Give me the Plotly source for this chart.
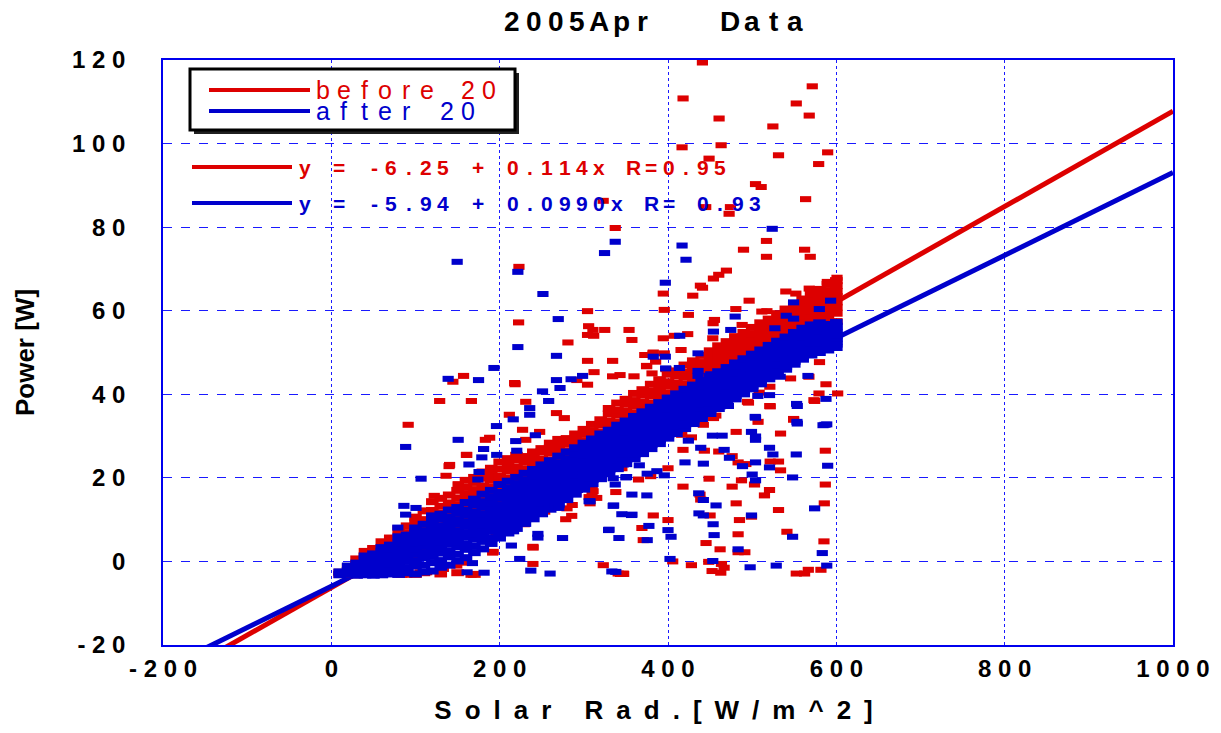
import plotly.graph_objects as go

# ---------------- data ----------------
BAND_X = [10, 20, 30, 40, 50, 60, 70, 80, 90, 100, 110, 120, 130, 140, 150, 160, 170, 180, 190, 200,
          210, 220, 230, 240, 250, 260, 270, 280, 290, 300, 310, 320, 330, 340, 350, 360, 370, 380, 390, 400,
          410, 420, 430, 440, 450, 460, 470, 480, 490, 500, 510, 520, 530, 540, 550, 560, 570, 580, 590, 600]

RED_BAND_Y = [
    [-3.1, -2.6],
    [-3.0, -2.1, -1.3],
    [-3.2, -1.9, -0.7, 0.6],
    [-3.0, -1.4, -0.1, 1.3, 2.4],
    [-2.9, -1.1, 0.4, 1.7, 3.1],
    [-3.1, -0.9, 0.6, 2.0, 3.2, 4.7],
    [-2.6, -0.3, 1.3, 2.5, 4.1, 5.6],
    [-3.0, -0.7, 1.9, 3.3, 4.5, 6.2, 7.8],
    [-2.3, 0.6, 2.3, 4.0, 5.3, 6.9, 8.5],
    [-3.1, 1.3, 3.0, 4.7, 6.1, 7.4, 9.2, 10.6],
    [-2.7, 2.1, 4.0, 5.3, 7.0, 8.4, 10.0, 12.1],
    [2.7, 4.7, 6.0, 7.7, 9.0, 10.7, 12.2, 14.3],
    [-3.0, 3.9, 5.5, 7.2, 8.5, 10.2, 11.5, 13.2, 15.1],
    [4.5, 6.6, 7.9, 9.6, 10.9, 12.5, 14.0, 15.9],
    [-2.7, 5.9, 7.5, 9.2, 10.5, 12.1, 13.6, 15.2, 17.0],
    [6.8, 8.7, 10.0, 11.7, 12.9, 14.6, 16.1, 17.7, 19.4],
    [-3.1, 7.9, 9.5, 11.3, 12.6, 14.2, 15.7, 17.2, 18.9, 20.1],
    [8.9, 10.9, 12.2, 13.9, 15.1, 16.8, 18.1, 19.9, 21.4],
    [10.1, 11.7, 13.4, 14.8, 16.4, 17.7, 19.4, 21.0, 22.3],
    [11.1, 13.1, 14.4, 16.1, 17.4, 19.1, 20.4, 22.1, 23.8],
    [12.3, 13.9, 15.7, 17.0, 18.7, 20.0, 21.7, 23.0, 24.6],
    [13.3, 15.3, 16.6, 18.3, 19.6, 21.3, 22.6, 24.3, 25.4],
    [14.6, 16.2, 17.9, 19.2, 20.9, 22.2, 23.9, 25.1],
    [15.6, 17.6, 18.9, 20.6, 21.9, 23.6, 24.9, 26.2],
    [16.9, 18.5, 20.2, 21.5, 23.2, 24.5, 26.2, 27.0],
    [17.9, 19.9, 21.2, 22.9, 24.2, 25.9, 27.2, 28.3],
    [19.2, 20.8, 22.5, 23.8, 25.5, 26.8, 28.1, 29.2],
    [20.2, 22.2, 23.5, 25.2, 26.5, 28.2, 29.4],
    [21.5, 23.1, 24.8, 26.1, 27.8, 29.1, 30.5],
    [22.5, 24.5, 25.8, 27.5, 28.8, 30.4, 31.6],
    [23.8, 25.4, 27.1, 28.4, 30.1, 31.3, 32.8],
    [24.8, 26.8, 28.1, 29.8, 31.0, 32.7, 33.9],
    [26.1, 27.7, 29.4, 30.7, 32.3, 33.6, 35.3, 36.6],
    [27.1, 29.1, 30.4, 32.1, 33.3, 35.0, 36.2, 37.9],
    [28.5, 30.1, 31.8, 33.0, 34.7, 35.9, 37.6, 38.8],
    [29.4, 31.4, 32.7, 34.4, 35.6, 37.3, 38.5, 40.2],
    [30.7, 32.3, 34.0, 35.3, 36.9, 38.2, 39.9, 41.1],
    [31.7, 33.7, 35.0, 36.7, 37.9, 39.6, 40.8, 42.4],
    [33.1, 34.7, 36.4, 37.6, 39.3, 40.5, 42.1, 43.5],
    [34.0, 36.0, 37.3, 39.0, 40.2, 41.9, 43.0, 44.8],
    [35.4, 37.0, 38.7, 39.9, 41.5, 42.7, 44.4, 45.6],
    [36.5, 38.4, 39.7, 41.3, 42.5, 44.1, 45.3, 47.0],
    [37.7, 39.5, 41.0, 42.2, 43.8, 45.0, 46.6, 48.0],
    [38.9, 40.8, 42.1, 43.6, 44.8, 46.4, 47.6, 49.3],
    [40.3, 41.9, 43.5, 44.7, 46.2, 47.4, 49.0, 50.4],
    [41.4, 43.3, 44.6, 46.1, 47.3, 48.8, 50.0, 51.6],
    [42.7, 44.4, 45.9, 47.1, 48.6, 49.8, 51.3, 52.6],
    [43.8, 45.7, 47.0, 48.4, 49.6, 51.1, 52.3, 53.8],
    [45.0, 46.8, 48.2, 49.4, 50.9, 52.0, 53.5, 54.8],
    [46.1, 48.0, 49.3, 50.7, 51.9, 53.3, 54.5, 56.0],
    [47.2, 49.0, 50.5, 51.7, 53.1, 54.3, 55.7, 57.1],
    [48.4, 50.2, 51.6, 52.9, 54.2, 55.5, 56.8, 58.0],
    [49.5, 51.3, 52.8, 54.0, 55.3, 56.6, 57.9, 59.3],
    [50.6, 52.5, 53.9, 55.2, 56.5, 57.7, 59.1, 60.4],
    [51.8, 53.6, 55.1, 56.3, 57.6, 58.9, 60.2, 61.6],
    [52.9, 54.8, 56.2, 57.5, 58.8, 60.0, 61.4, 62.8],
    [54.0, 55.9, 57.4, 58.6, 59.9, 61.2, 62.5, 63.9],
    [55.2, 57.1, 58.5, 59.8, 61.1, 62.3, 63.7, 65.1],
    [56.3, 58.2, 59.7, 60.9, 62.2, 63.5, 64.8, 66.3],
    [57.4, 59.4, 60.8, 62.1, 63.4, 64.6, 66.0, 67.2],
]

BLUE_BAND_Y = [
    [-3.2, -2.5],
    [-3.1, -2.2, -1.1],
    [-3.3, -2.4, -1.2, -0.4],
    [-3.2, -2.5, -1.3, -0.5, 0.7, 1.3],
    [-3.3, -2.1, -1.3, -0.1, 0.9, 1.8],
    [-3.2, -2.3, -0.9, 0.2, 1.1, 2.4, 3.3],
    [-3.0, -2.1, -0.7, 0.5, 1.5, 2.9, 3.9],
    [-3.1, -1.7, -0.6, 0.9, 1.9, 3.3, 4.4, 5.9],
    [-2.7, -1.5, 0.0, 1.1, 2.6, 3.7, 5.2, 6.3],
    [-3.0, -1.1, 0.2, 1.8, 2.9, 4.4, 5.5, 7.0, 8.0],
    [-2.5, -0.9, 0.9, 2.1, 3.6, 4.7, 6.2, 7.3, 8.9],
    [-2.3, -0.3, 1.2, 2.8, 3.9, 5.4, 6.6, 8.1, 9.4, 10.9],
    [-1.4, 0.2, 2.0, 3.2, 4.7, 5.9, 7.4, 8.5, 10.1, 11.3],
    [-0.9, 1.1, 2.5, 4.1, 5.3, 6.8, 7.9, 9.4, 10.6, 12.3],
    [0.1, 1.7, 3.5, 4.7, 6.2, 7.3, 8.9, 10.0, 11.6, 12.9],
    [0.9, 2.9, 4.2, 5.8, 6.9, 8.4, 9.5, 11.1, 12.3, 14.1],
    [2.1, 3.6, 5.3, 6.5, 8.0, 9.1, 10.7, 11.8, 13.5, 14.9],
    [3.0, 4.8, 6.1, 7.6, 8.7, 10.2, 11.4, 13.0, 14.3, 16.1],
    [4.3, 5.6, 7.2, 8.3, 9.8, 11.1, 12.5, 13.9, 15.4, 17.0],
    [5.6, 7.1, 8.3, 9.8, 10.9, 12.4, 13.6, 15.2, 16.5, 18.4],
    [6.8, 8.0, 9.5, 10.6, 12.1, 13.3, 14.8, 16.1, 17.6, 19.2],
    [7.9, 9.2, 10.5, 11.7, 13.0, 14.4, 15.6, 17.1, 18.5, 20.1],
    [9.1, 10.2, 11.6, 12.8, 14.1, 15.3, 16.7, 18.0, 19.5, 21.1],
    [10.2, 11.5, 12.7, 13.8, 15.2, 16.4, 17.7, 19.1, 20.5, 22.0],
    [11.4, 12.5, 13.9, 15.0, 16.2, 17.5, 18.8, 20.1, 21.6, 23.1],
    [12.5, 13.8, 14.9, 16.1, 17.3, 18.5, 19.8, 21.1, 22.5, 24.1],
    [13.7, 14.8, 16.1, 17.2, 18.3, 19.6, 20.9, 22.2, 23.6, 25.2],
    [14.8, 16.1, 17.2, 18.3, 19.5, 20.7, 21.9, 23.2, 24.6, 26.2],
    [16.1, 17.2, 18.4, 19.4, 20.6, 21.7, 23.0, 24.3, 25.7, 27.2],
    [17.3, 18.5, 19.5, 20.7, 21.7, 22.9, 24.1, 25.4, 26.8, 28.3],
    [18.6, 19.6, 20.8, 21.8, 22.9, 24.0, 25.2, 26.5, 27.9, 29.3],
    [19.8, 20.9, 21.9, 23.0, 24.0, 25.2, 26.4, 27.6, 29.0, 30.5],
    [21.0, 22.0, 23.1, 24.1, 25.2, 26.2, 27.4, 28.7, 30.1, 31.4],
    [22.2, 23.3, 24.2, 25.3, 26.3, 27.4, 28.5, 29.8, 31.1, 32.6],
    [23.4, 24.4, 25.4, 26.4, 27.4, 28.5, 29.6, 30.9, 32.2, 33.6],
    [24.6, 25.7, 26.6, 27.6, 28.5, 29.6, 30.8, 32.0, 33.3, 34.7],
    [25.8, 26.8, 27.7, 28.7, 29.7, 30.7, 31.9, 33.1, 34.4, 35.8],
    [27.0, 28.0, 28.9, 29.9, 30.8, 31.9, 33.0, 34.2, 35.5, 36.9],
    [28.2, 29.2, 30.1, 31.0, 32.0, 33.0, 34.1, 35.3, 36.6, 38.0],
    [29.5, 30.4, 31.3, 32.2, 33.1, 34.1, 35.2, 36.4, 37.7, 39.1],
    [30.6, 31.6, 32.4, 33.3, 34.2, 35.2, 36.3, 37.5, 38.8, 40.1],
    [31.8, 32.7, 33.6, 34.5, 35.4, 36.3, 37.4, 38.6, 39.8, 41.2],
    [33.0, 33.9, 34.7, 35.6, 36.5, 37.4, 38.5, 39.6, 40.9, 42.2],
    [34.2, 35.1, 35.9, 36.7, 37.6, 38.6, 39.6, 40.7, 41.9, 43.3],
    [35.4, 36.2, 37.0, 37.9, 38.7, 39.7, 40.7, 41.8, 43.0, 44.3],
    [36.6, 37.4, 38.2, 39.0, 39.9, 40.8, 41.8, 42.9, 44.0, 45.4],
    [37.8, 38.5, 39.3, 40.2, 41.0, 41.9, 42.9, 44.0, 45.1, 46.4],
    [38.9, 39.7, 40.5, 41.3, 42.1, 43.0, 44.0, 45.0, 46.2, 47.5],
    [40.1, 40.9, 41.6, 42.4, 43.3, 44.1, 45.1, 46.1, 47.2, 48.5],
    [41.3, 42.0, 42.8, 43.6, 44.4, 45.2, 46.2, 47.2, 48.3, 49.6],
    [42.5, 43.2, 43.9, 44.7, 45.5, 46.3, 47.3, 48.3, 49.4, 50.6],
    [43.7, 44.4, 45.1, 45.8, 46.6, 47.5, 48.4, 49.4, 50.4, 51.7],
    [44.9, 45.5, 46.2, 47.0, 47.7, 48.6, 49.5, 50.4, 51.5, 52.7],
    [46.0, 46.7, 47.4, 48.1, 48.9, 49.7, 50.6, 51.5, 52.5, 53.7],
    [47.2, 47.9, 48.5, 49.2, 50.0, 50.8, 51.7, 52.6, 53.6, 54.8],
    [48.4, 49.0, 49.7, 50.4, 51.1, 51.9, 52.8, 53.7, 54.6, 55.8],
    [49.4, 50.1, 50.8, 51.5, 52.2, 53.0, 53.8, 54.7, 55.7, 56.6],
    [50.0, 50.8, 51.5, 52.2, 52.9, 53.6, 54.4, 55.2, 56.1, 57.1],
    [50.6, 51.3, 52.1, 52.8, 53.5, 54.2, 55.0, 55.8, 56.7],
    [51.2, 52.0, 52.7, 53.4, 54.1, 54.8, 55.5, 56.3, 57.2],
]

RED_OUTLIERS = [
    (440.9, 119.4), (417.9, 110.8), (571.4, 113.7), (552.4, 109.6), (567.8, 106.7), (460.7, 106.0),
    (524.6, 104.1), (416.7, 99.1), (463.1, 99.6), (589.7, 97.9), (531.3, 97.2), (448.8, 96.4),
    (579.0, 95.1), (504.0, 90.3), (510.7, 89.6), (563.5, 86.7), (323.0, 86.3), (474.2, 84.8),
    (472.6, 83.2), (444.8, 84.8), (337.3, 79.8), (517.0, 76.7), (489.7, 74.6), (517.0, 72.9),
    (562.3, 74.6), (569.0, 72.9), (469.4, 69.6), (460.3, 68.6), (454.0, 67.7), (438.5, 66.0),
    (441.0, 65.5), (429.4, 63.6), (394.4, 64.1), (589.3, 66.9), (600.8, 67.9), (591.7, 66.5),
    (540.0, 64.6), (551.9, 64.1), (567.8, 65.3), (496.4, 62.4), (480.6, 60.4), (511.5, 59.8),
    (517.5, 59.9), (424.2, 59.0), (455.2, 57.8), (453.6, 57.0), (488.1, 56.6), (395.6, 60.2),
    (394.4, 53.4), (407.5, 54.0), (423.4, 54.4), (453.2, 53.4), (464.3, 51.4), (478.2, 49.8),
    (415.5, 50.6), (395.6, 49.8), (382.5, 50.0), (385.3, 47.8), (374.6, 46.7), (397.6, 46.0),
    (381.0, 45.0), (580.0, 47.7), (582.8, 50.6), (542.0, 53.4), (545.6, 43.8), (567.4, 44.2),
    (587.7, 42.4), (601.6, 40.2), (579.4, 40.2), (521.0, 41.8), (506.7, 42.6), (521.0, 37.2),
    (494.4, 38.2), (549.2, 34.1), (573.4, 38.6), (508.3, 40.4),
    (222.9, 70.5), (222.5, 57.2), (281.1, 52.4), (304.4, 59.9), (324.8, 55.4), (310.8, 55.4),
    (305.7, 56.3), (304.4, 54.2), (311.7, 54.0), (334.2, 48.0), (353.7, 55.4), (357.1, 53.0),
    (157.1, 44.4), (144.4, 43.0), (128.7, 38.4), (166.4, 38.4), (91.3, 32.7), (217.8, 42.7),
    (211.5, 35.1), (227.2, 31.5), (247.5, 31.0), (231.0, 29.1), (267.5, 35.5), (276.8, 34.3),
    (291.7, 43.4), (304.4, 48.0), (304.4, 42.3), (312.1, 45.3), (334.2, 44.3), (343.0, 44.6),
    (359.6, 44.3), (372.4, 49.4), (374.5, 46.8), (382.2, 49.8), (136.3, 20.5), (183.0, 29.1),
    (188.1, 29.6), (160.5, 25.5), (140.5, 23.1), (150.7, 18.5), (122.3, 15.7), (192.3, 2.3),
    (239.5, -0.6), (252.6, 12.1), (286.2, 13.5), (278.5, 10.1), (229.3, 8.9), (239.5, 3.5),
    (323.1, -0.9), (347.3, -3.0), (343.5, -3.0),
    (218.3, 42.4), (231.0, 38.2), (160.9, 25.5), (139.9, 22.8), (151.0, 18.3), (280.0, 12.7),
    (285.6, 10.9), (253.5, 11.9), (214.3, 8.7), (239.7, 3.3), (195.7, 6.3), (191.7, 2.1),
    (166.0, -3.2), (149.0, -1.0), (155.0, -0.3), (83.6, -3.2), (89.6, -3.2), (14.3, -3.2),
    (105.4, -2.6), (113.3, -2.6), (133.1, -1.8), (315.3, 15.2), (307.4, 13.9), (309.8, 16.5),
    (290.4, 16.3),
    (495.6, 38.0), (521.4, 37.1), (574.2, 38.4), (549.2, 33.9), (481.0, 31.0), (533.7, 30.6),
    (507.0, 33.4), (454.0, 34.3), (456.8, 34.9), (442.0, 32.7), (416.3, 30.3), (427.8, 29.7),
    (413.5, 31.7), (417.8, 26.7), (443.2, 26.5), (460.3, 26.3), (476.2, 25.2), (483.3, 23.7),
    (492.5, 23.3), (521.4, 23.9), (531.3, 23.9), (533.7, 21.8), (586.9, 26.5), (448.8, 19.8),
    (487.3, 19.4), (476.2, 17.9), (502.8, 18.4), (520.6, 17.1), (514.6, 15.8), (586.9, 18.4),
    (585.7, 13.9), (531.3, 12.3), (481.0, 13.9), (417.8, 17.9), (438.0, 16.0), (438.9, 14.8),
    (450.0, 11.0), (499.2, 10.7), (484.9, 9.9), (483.3, 6.5), (445.2, 4.4), (461.9, 2.9),
    (483.3, 2.2), (491.3, 2.2), (541.3, 7.1), (585.3, 4.8), (400.0, 9.9), (382.5, 11.0),
    (369.0, 8.0), (370.6, 5.1), (405.6, 0.0), (427.8, -0.9), (448.4, -0.1), (463.5, -0.6),
    (466.7, -1.5), (452.4, -2.3), (462.7, -2.7), (552.4, -2.9), (562.3, -2.9), (566.7, -2.0),
    (581.7, -2.0), (346.8, -2.9), (340.8, -2.9), (338.0, 16.6), (311.0, 16.8), (306.3, 15.4),
    (345.2, 22.3), (365.0, 19.6), (379.4, 20.4), (400.0, 22.3), (310.0, 17.8),
]

BLUE_OUTLIERS = [
    (523.8, 79.6), (337.3, 76.5), (324.6, 73.8), (416.7, 75.6), (421.4, 72.2), (396.8, 66.7),
    (549.2, 62.0), (579.8, 60.4), (593.2, 62.4), (479.8, 58.6), (549.2, 58.1), (540.5, 58.8),
    (527.0, 55.8), (474.6, 55.4), (454.0, 55.0), (413.9, 54.0), (382.5, 49.0), (396.8, 49.0),
    (397.2, 46.2), (413.5, 46.3), (435.7, 49.8), (435.7, 45.6), (435.7, 44.4), (450.8, 44.8),
    (481.0, 46.7), (533.3, 44.2), (566.3, 44.4), (520.6, 39.8), (506.7, 39.6), (552.8, 37.7),
    (503.6, 34.6), (587.7, 38.9), (586.5, 32.7), (553.2, 33.4),
    (149.5, 71.7), (221.6, 69.3), (251.4, 64.0), (269.6, 58.0), (221.6, 51.3), (193.2, 46.3),
    (267.5, 49.2), (298.5, 44.4), (284.9, 43.6), (267.5, 43.4), (250.9, 40.7), (174.9, 43.4),
    (138.8, 43.7), (235.7, 36.7), (235.7, 35.1), (258.2, 38.4), (216.1, 34.0), (196.2, 32.4),
    (150.7, 29.1), (88.3, 27.4), (180.9, 26.9), (178.8, 24.9), (163.5, 23.2), (174.1, 19.6),
    (106.6, 19.8), (86.2, 13.3), (100.6, 12.8), (88.3, 11.2), (79.0, 8.1), (216.5, 7.2),
    (223.8, 0.6), (237.0, -2.2), (259.9, -2.9), (245.4, 6.6), (245.4, 5.7), (274.7, 5.6),
    (329.9, 7.6), (335.4, 13.4), (357.1, 11.2), (333.3, -2.4), (306.6, 18.5), (349.9, 20.1),
    (330.8, 26.1), (344.8, 24.1),
    (271.7, 41.5), (219.1, 28.8), (175.5, 21.4), (196.5, 25.5), (220.3, 26.5), (242.4, 30.2),
    (213.9, 3.8), (265.4, 13.5), (270.2, 12.8), (292.3, 17.1), (307.4, 14.4), (181.5, -2.7),
    (161.3, -2.6), (167.6, -0.4),
    (553.6, 37.2), (588.6, 32.8), (584.2, 32.6), (553.6, 33.0), (504.0, 34.4), (499.2, 31.0),
    (504.0, 29.9), (504.0, 29.1), (471.8, 37.2), (467.8, 38.3), (461.9, 37.1), (452.8, 30.1),
    (464.3, 30.1), (438.9, 27.2), (466.7, 26.7), (473.0, 24.8), (488.5, 22.8), (504.0, 23.7),
    (520.6, 27.2), (524.6, 25.6), (552.4, 25.6), (520.6, 22.5), (589.7, 22.9), (500.0, 20.8),
    (504.0, 19.4), (548.0, 20.1), (420.2, 23.7), (442.0, 23.4), (424.2, 28.9), (436.5, 16.3),
    (442.0, 14.7), (457.1, 13.4), (436.8, 11.5), (442.0, 11.0), (499.2, 11.0), (453.6, 8.9),
    (454.8, 6.3), (483.3, 2.9), (548.0, 5.9), (574.2, 12.7), (583.3, 2.0), (453.2, 0.1),
    (497.6, -1.4), (528.6, -1.0), (588.6, -1.0), (402.4, 0.6), (377.3, 8.5), (400.0, 7.5),
    (403.6, 5.9), (375.3, 5.1), (341.7, 5.6), (329.4, 7.5), (345.2, 11.3), (356.7, 11.1),
    (334.9, 13.3), (357.1, 16.0), (374.9, 15.8), (337.3, 18.4), (334.9, 19.9), (350.8, 20.2),
    (375.3, 21.0), (386.8, 21.6), (395.6, 20.6), (365.9, 23.0), (346.8, 23.2), (328.6, 22.1),
    (306.3, 14.4), (338.0, -2.5),
]

RED_FIT = (-6.25, 0.114)     # intercept, slope
BLUE_FIT = (-5.94, 0.0990)
FIT_X = [-200, 1000]

SERIES_NAMES = ["before 20", "after 20"]
RED_EQ = "y = -6.25 + 0.114x R=0.95"
BLUE_EQ = "y = -5.94 + 0.0990x R= 0.93"
TITLE = "2005Apr   Data"
X_TITLE = "Solar Rad.[W/m^2]"
Y_TITLE = "Power [W]"

X_TICKS = [-200, 0, 200, 400, 600, 800, 1000]
X_TICK_TEXT = ["- 2 0 0", "0", "2 0 0", "4 0 0", "6 0 0", "8 0 0", "1 0 0 0"]
Y_TICKS = [-20, 0, 20, 40, 60, 80, 100, 120]
Y_TICK_TEXT = ["- 2 0", "0", "2 0", "4 0", "6 0", "8 0", "1 0 0", "1 2 0"]

# ---------------- styling ----------------
RED = "#dd0000"
BLUE = "#0000cc"
GRID = "#1a1aff"
FONT = "Liberation Sans, Arial, sans-serif"
W, H = 1221, 733
L, R, T, B = 163, 48, 60, 88
PW, PH = W - L - R, H - T - B


def flatten(xs, cols):
    ox, oy = [], []
    for x, ys in zip(xs, cols):
        for y in ys:
            ox.append(x)
            oy.append(y)
    return ox, oy


red_band_x, red_band_y = flatten(BAND_X, RED_BAND_Y)
blue_band_x, blue_band_y = flatten(BAND_X, BLUE_BAND_Y)

fig = go.Figure()
for (a, b), col in ((RED_FIT, RED), (BLUE_FIT, BLUE)):
    fig.add_trace(go.Scatter(x=FIT_X, y=[a + b * x for x in FIT_X], mode="lines",
                             line=dict(color=col, width=5), showlegend=False, hoverinfo="skip"))

# dense overlapping core of each series drawn with slightly heavier dashes
for name, col, (cx, cy), pts in (
        (SERIES_NAMES[0], RED, (red_band_x, red_band_y), RED_OUTLIERS),
        (SERIES_NAMES[1], BLUE, (blue_band_x, blue_band_y), BLUE_OUTLIERS)):
    fig.add_trace(go.Scatter(x=cx, y=cy, mode="markers", name=name, showlegend=False,
                             marker=dict(symbol="line-ew", size=9, color=col,
                                         line=dict(color=col, width=7))))
    fig.add_trace(go.Scatter(x=[p[0] for p in pts], y=[p[1] for p in pts], mode="markers",
                             name=name, showlegend=False,
                             marker=dict(symbol="line-ew", size=8, color=col,
                                         line=dict(color=col, width=6))))


def px_to_paper(px, py):
    return (px - L) / PW, (H - B - py) / PH


annotations = []


def spaced(text, x_first, y, pitch, size, color, bold=True):
    for i, ch in enumerate(text):
        if ch == " ":
            continue
        xp, yp = px_to_paper(x_first + i * pitch, y)
        t = "<b>%s</b>" % ch if bold else ch
        annotations.append(dict(text=t, x=xp, y=yp, xref="paper", yref="paper",
                                xanchor="center", yanchor="middle", showarrow=False,
                                font=dict(family=FONT, size=size, color=color)))


spaced(TITLE, 512, 21, 21.8, 28, "black", True)
spaced(SERIES_NAMES[0], 323, 90, 20.7, 25, RED, False)
spaced(SERIES_NAMES[1], 323, 111, 20.7, 25, BLUE, False)
spaced(RED_EQ, 304.8, 167, 17.32, 21, RED, True)
spaced(BLUE_EQ, 304.8, 203, 17.32, 21, BLUE, True)

shapes = []


def rect(x0, y0, x1, y1, **kw):
    a0, b0 = px_to_paper(x0, y1)
    a1, b1 = px_to_paper(x1, y0)
    shapes.append(dict(type="rect", xref="paper", yref="paper", x0=a0, y0=b0, x1=a1, y1=b1, **kw))


def hline(x0, x1, y, color, width):
    a0, b = px_to_paper(x0, y)
    a1, _ = px_to_paper(x1, y)
    shapes.append(dict(type="line", xref="paper", yref="paper", x0=a0, y0=b, x1=a1, y1=b,
                       line=dict(color=color, width=width)))


rect(194, 73, 519, 134, fillcolor="#202020", line=dict(width=0))
rect(190, 69, 515, 130, fillcolor="white", line=dict(color="black", width=3))
hline(209, 310, 90, RED, 4)
hline(209, 310, 111, BLUE, 4)
hline(192, 292, 167, RED, 4)
hline(192, 292, 203, BLUE, 4)

EN = "\u2002"
x_title_text = "<b>" + EN.join(X_TITLE).replace(EN + " " + EN, EN + EN + "&nbsp;") + "</b>" + "&nbsp;" * 4

axis_common = dict(showline=True, linecolor="#0000ee", linewidth=1.5, mirror=True,
                   showgrid=True, gridcolor=GRID, gridwidth=1, zeroline=False,
                   ticks="outside", tickcolor="rgba(0,0,0,0)",
                   tickfont=dict(family=FONT, size=24, color="black", weight="bold"),
                   tickmode="array", automargin=False)

fig.update_layout(
    width=W, height=H, autosize=False,
    margin=dict(l=L, r=R, t=T, b=B),
    paper_bgcolor="white", plot_bgcolor="white",
    showlegend=False,
    xaxis=dict(range=[-200, 1000], tickvals=X_TICKS, ticktext=X_TICK_TEXT, ticklen=1,
               griddash="dot",
               title=dict(text=x_title_text,
                          font=dict(family=FONT, size=26, color="black"), standoff=20),
               **axis_common),
    yaxis=dict(range=[-20, 120], tickvals=Y_TICKS, ticktext=Y_TICK_TEXT, ticklen=31,
               griddash="dash",
               title=dict(text="<b>%s</b>" % Y_TITLE,
                          font=dict(family=FONT, size=26, color="black"), standoff=30),
               **axis_common),
    annotations=annotations,
    shapes=shapes,
)

fig.write_html("out.html")
